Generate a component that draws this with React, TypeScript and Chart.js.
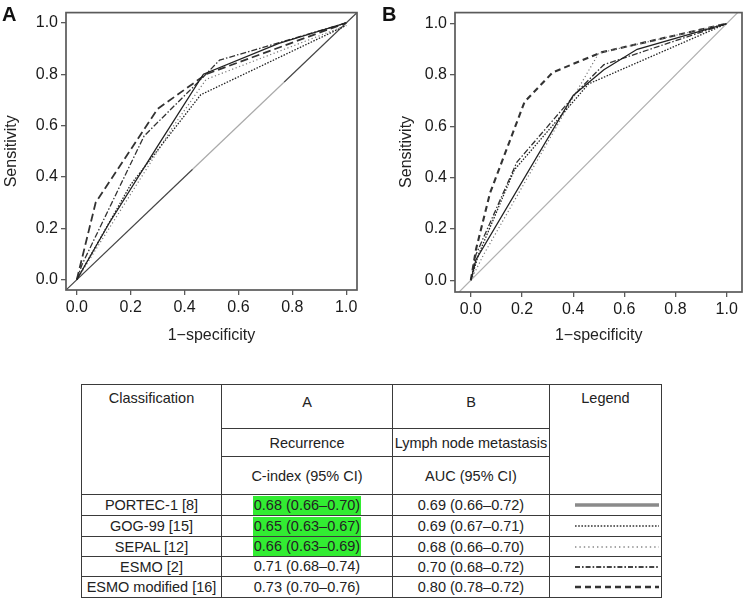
import React, { useEffect, useRef } from "react";
import { Chart, registerables } from "chart.js";
Chart.register(...registerables);

const FONT = '"Liberation Sans", Arial, Helvetica, sans-serif';

// ---------- table data ----------
const classifications = ["PORTEC-1 [8]", "GOG-99 [15]", "SEPAL [12]", "ESMO [2]", "ESMO modified [16]"];
const cIndexRecurrence = ["0.68 (0.66–0.70)", "0.65 (0.63–0.67)", "0.66 (0.63–0.69)", "0.71 (0.68–0.74)", "0.73 (0.70–0.76)"];
const aucLymph = ["0.69 (0.66–0.72)", "0.69 (0.67–0.71)", "0.68 (0.66–0.70)", "0.70 (0.68–0.72)", "0.80 (0.78–0.72)"];
const highlightRecurrence = [true, true, true, false, false];

// ---------- axis ticks ----------
const axisTicks = [0, 0.2, 0.4, 0.6, 0.8, 1.0];

// ---------- panel A (recurrence) ----------
const aPortecX = [0, 0.12, 0.30, 0.47, 0.75, 1];
const aPortecY = [0, 0.22, 0.52, 0.80, 0.92, 1];
const aGogX = [0, 0.20, 0.46, 1];
const aGogY = [0, 0.37, 0.72, 0.99];
const aSepalX = [0, 0.18, 0.36, 0.48, 1];
const aSepalY = [0, 0.30, 0.60, 0.78, 0.99];
const aEsmoX = [0, 0.02, 0.25, 0.47, 0.53, 1];
const aEsmoY = [0, 0.06, 0.56, 0.79, 0.855, 1];
const aEsmoModX = [0, 0.07, 0.30, 0.48, 1];
const aEsmoModY = [0, 0.30, 0.665, 0.80, 1];
const aDiagX = [-0.05, 0.43, 0.77, 1.05];
const aDiagY = [-0.05, 0.43, 0.77, 1.05];

// ---------- panel B (lymph node metastasis) ----------
const bPortecX = [0, 0.02, 0.40, 0.52, 0.65, 1];
const bPortecY = [0, 0.08, 0.72, 0.82, 0.90, 1];
const bGogX = [0, 0.03, 0.17, 0.46, 1];
const bGogY = [0, 0.10, 0.43, 0.765, 1];
const bSepalX = [0, 0.05, 0.41, 0.50, 1];
const bSepalY = [0, 0.10, 0.73, 0.885, 1];
const bEsmoX = [0, 0.02, 0.18, 0.43, 0.52, 1];
const bEsmoY = [0, 0.10, 0.46, 0.75, 0.84, 1];
const bEsmoModX = [0, 0.02, 0.075, 0.21, 0.32, 0.51, 1];
const bEsmoModY = [0, 0.12, 0.34, 0.695, 0.81, 0.888, 1];
const bDiagX = [-0.07, 1.07];
const bDiagY = [-0.07, 1.07];

const pts = (xs: number[], ys: number[]) => xs.map((x, i) => ({ x, y: ys[i] }));

const lineStyles = [
  { color: "#222", width: 1.3, dash: [] as number[] },
  { color: "#222", width: 1.3, dash: [1.5, 1.5] },
  { color: "#777", width: 1.2, dash: [1.2, 2.5] },
  { color: "#333", width: 1.3, dash: [6, 2, 1.5, 2] },
  { color: "#333", width: 1.8, dash: [6, 4] },
];

type PanelDef = {
  letter: string;
  curves: [number[], number[]][];
  diag: [number[], number[]];
  diagColors: string[];
  xRange: [number, number];
  yRange: [number, number];
  yAxisWidth: number;
  xAxisHeight: number;
  padTop: number;
  padRight: number;
  letterX: number;
  yTitleX: number;
};

const panelA: PanelDef = {
  letter: "A",
  curves: [
    [aPortecX, aPortecY],
    [aGogX, aGogY],
    [aSepalX, aSepalY],
    [aEsmoX, aEsmoY],
    [aEsmoModX, aEsmoModY],
  ],
  diag: [aDiagX, aDiagY],
  diagColors: ["#444", "#aaa", "#444"],
  xRange: [-0.04, 1.04],
  yRange: [-0.04, 1.04],
  yAxisWidth: 66,
  xAxisHeight: 60,
  padTop: 12,
  padRight: 15,
  letterX: 2,
  yTitleX: 12,
};

const panelB: PanelDef = {
  letter: "B",
  curves: [
    [bPortecX, bPortecY],
    [bGogX, bGogY],
    [bSepalX, bSepalY],
    [bEsmoX, bEsmoY],
    [bEsmoModX, bEsmoModY],
  ],
  diag: [bDiagX, bDiagY],
  diagColors: ["#b0b0b0"],
  xRange: [-0.062, 1.06],
  yRange: [-0.046, 1.043],
  yAxisWidth: 83,
  xAxisHeight: 58,
  padTop: 10,
  padRight: 2,
  letterX: 10,
  yTitleX: 35,
};

function makeChart(canvas: HTMLCanvasElement, p: PanelDef) {
  const datasets: any[] = p.curves.map((c, i) => ({
    data: pts(c[0], c[1]),
    showLine: true,
    pointRadius: 0,
    borderColor: lineStyles[i].color,
    borderWidth: p.letter === "B" && i === 4 ? 2.1 : lineStyles[i].width,
    borderDash: p.letter === "A" && i === 4 ? [8, 4] : lineStyles[i].dash,
    tension: 0,
  }));
  datasets.push({
    data: pts(p.diag[0], p.diag[1]),
    showLine: true,
    pointRadius: 0,
    borderColor: p.diagColors[0],
    borderWidth: 1.2,
    segment: { borderColor: (ctx: any) => p.diagColors[ctx.p0DataIndex] || p.diagColors[0] },
  });

  const framePlugin = {
    id: "frameAndTitles",
    afterDraw(chart: any) {
      const { ctx, chartArea: a } = chart;
      ctx.save();
      ctx.strokeStyle = "#5a5a5a";
      ctx.lineWidth = 1.7;
      ctx.strokeRect(a.left, a.top, a.right - a.left, a.bottom - a.top);
      ctx.fillStyle = "#111";
      ctx.font = `bold 20px ${FONT}`;
      ctx.textAlign = "left";
      ctx.textBaseline = "top";
      ctx.fillText(p.letter, p.letterX, 5);
      const xs = chart.scales.x;
      const ys = chart.scales.y;
      ctx.font = `16px ${FONT}`;
      ctx.fillStyle = "#222";
      ctx.textAlign = "center";
      ctx.textBaseline = "middle";
      ctx.fillText("1\u2212specificity", (xs.getPixelForValue(0) + xs.getPixelForValue(1)) / 2, 336);
      ctx.translate(p.yTitleX, (ys.getPixelForValue(0) + ys.getPixelForValue(1)) / 2);
      ctx.rotate(-Math.PI / 2);
      ctx.fillText("Sensitivity", 0, 0);
      ctx.restore();
    },
  };

  const axis = (isX: boolean) => ({
    type: "linear",
    min: isX ? p.xRange[0] : p.yRange[0],
    max: isX ? p.xRange[1] : p.yRange[1],
    afterBuildTicks: (s: any) => {
      s.ticks = axisTicks.map((v) => ({ value: v }));
    },
    afterFit: (s: any) => {
      if (isX) s.height = p.xAxisHeight;
      else s.width = p.yAxisWidth;
    },
    grid: { display: true, drawOnChartArea: false, drawTicks: true, tickLength: 5, color: "#5a5a5a", lineWidth: 1.3 },
    border: { display: false },
    ticks: {
      font: { size: 16, family: FONT },
      color: "#1a1a1a",
      padding: 3,
      maxRotation: 0,
      autoSkip: false,
      callback: (v: any) => Number(v).toFixed(1),
    },
  });

  return new Chart(canvas, {
    type: "scatter",
    data: { datasets },
    options: {
      animation: false,
      responsive: false,
      layout: { padding: { top: p.padTop, right: p.padRight, left: 0, bottom: 0 } },
      plugins: { legend: { display: false }, tooltip: { enabled: false } },
      scales: { x: axis(true) as any, y: axis(false) as any },
    },
    plugins: [framePlugin],
  });
}

function RocPanel({ panel, left }: { panel: PanelDef; left: number }) {
  const ref = useRef<HTMLCanvasElement>(null);
  useEffect(() => {
    if (!ref.current) return;
    const c = makeChart(ref.current, panel);
    return () => c.destroy();
  }, [panel]);
  return (
    <canvas
      ref={ref}
      width={372}
      height={350}
      style={{ position: "absolute", left, top: 0, width: 372, height: 350 }}
    />
  );
}

function LegendSample({ i }: { i: number }) {
  const w = 84;
  const common = { x1: 0, x2: w, y1: 5, y2: 5 };
  let line: React.ReactNode;
  if (i === 0) line = <line {...common} stroke="#8a8a8a" strokeWidth={3.5} />;
  else if (i === 1) line = <line {...common} stroke="#333" strokeWidth={1.6} strokeDasharray="1.6,1.6" />;
  else if (i === 2) line = <line {...common} stroke="#888" strokeWidth={1.4} strokeDasharray="1.4,3" />;
  else if (i === 3) line = <line {...common} stroke="#444" strokeWidth={1.8} strokeDasharray="5,2,1.6,2" />;
  else line = <line {...common} stroke="#333" strokeWidth={2.6} strokeDasharray="6,4" />;
  return (
    <svg width={w} height={10} style={{ display: "block", marginLeft: "auto", marginRight: 2 }}>
      {line}
    </svg>
  );
}

export default function App() {
  const bd = "1.6px solid #3a3a3a";
  const cell: React.CSSProperties = {
    border: bd,
    padding: 0,
    textAlign: "center",
    verticalAlign: "middle",
    whiteSpace: "nowrap",
    overflow: "visible",
  };
  return (
    <div style={{ position: "absolute", left: 0, top: 0, width: 744, height: 600, background: "#fff", overflow: "hidden" }}>
      <RocPanel panel={panelA} left={0} />
      <RocPanel panel={panelB} left={372} />
      <table
        style={{
          position: "absolute",
          left: 81,
          top: 384,
          width: 580,
          borderCollapse: "collapse",
          tableLayout: "fixed",
          fontFamily: FONT,
          fontSize: 14.5,
          color: "#222",
        }}
      >
        <colgroup>
          <col style={{ width: 140 }} />
          <col style={{ width: 171 }} />
          <col style={{ width: 157 }} />
          <col style={{ width: 112 }} />
        </colgroup>
        <tbody>
          <tr style={{ height: 44 }}>
            <td rowSpan={3} style={{ ...cell, verticalAlign: "top", paddingTop: 5 }}>Classification</td>
            <td style={{ ...cell, paddingBottom: 10 }}>A</td>
            <td style={{ ...cell, paddingBottom: 10 }}>B</td>
            <td rowSpan={3} style={{ ...cell, verticalAlign: "top", paddingTop: 5 }}>Legend</td>
          </tr>
          <tr style={{ height: 28 }}>
            <td style={cell}>Recurrence</td>
            <td style={cell}>Lymph node metastasis</td>
          </tr>
          <tr style={{ height: 38 }}>
            <td style={cell}>C-index (95% CI)</td>
            <td style={cell}>AUC (95% CI)</td>
          </tr>
          {classifications.map((name, i) => (
            <tr key={name} style={{ height: i < 2 || i === 4 ? 21 : 20 }}>
              <td style={cell}>{name}</td>
              <td style={cell}>
                <span
                  style={{
                    display: "inline-block",
                    lineHeight: "19px",
                    padding: "0 1px",
                    background: highlightRecurrence[i] ? "rgb(50,236,50)" : "transparent",
                  }}
                >
                  {cIndexRecurrence[i]}
                </span>
              </td>
              <td style={cell}>{aucLymph[i]}</td>
              <td style={cell}>
                <LegendSample i={i} />
              </td>
            </tr>
          ))}
        </tbody>
      </table>
    </div>
  );
}
